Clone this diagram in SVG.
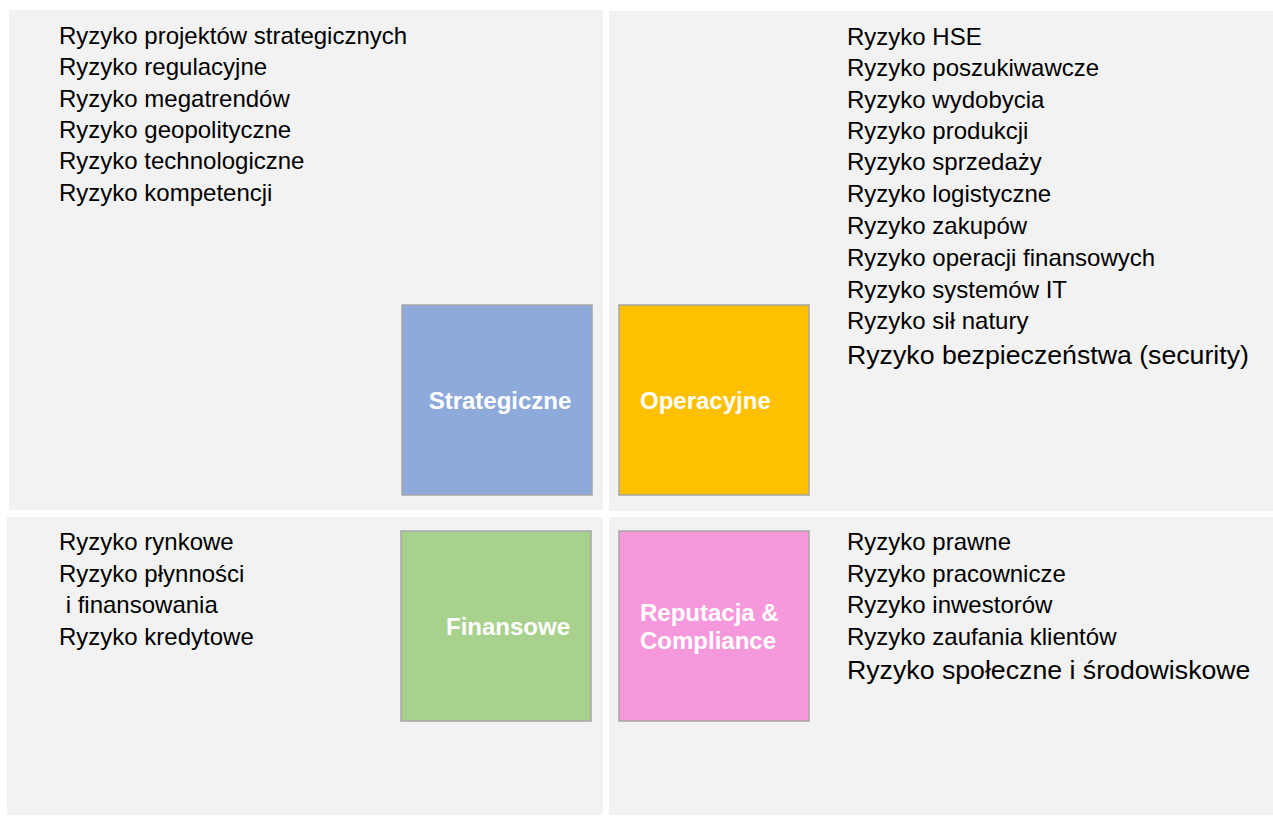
<svg xmlns="http://www.w3.org/2000/svg" width="1273" height="817" viewBox="0 0 1273 817">
<style>
.bg{fill:#f2f2f2}
.t{font-family:"Liberation Sans",Arial,sans-serif;font-size:24px;fill:#000}
.tb{font-family:"Liberation Sans",Arial,sans-serif;font-size:26.7px;fill:#000}
.box{stroke:#a6a6a6;stroke-width:1.5}
.lab{font-family:"Liberation Sans",Arial,sans-serif;font-size:24px;font-weight:bold;fill:#fff}
</style>
<rect width="1273" height="817" fill="#ffffff"/>
<g id="quadrants">
<rect class="bg" x="9" y="10" width="594" height="500"/>
<rect class="bg" x="609" y="11" width="664" height="500"/>
<rect class="bg" x="7" y="517" width="596" height="298"/>
<rect class="bg" x="609" y="517" width="664" height="298"/>
</g>
<g id="strategic-list">
<text class="t" x="59" y="44">Ryzyko projektów strategicznych</text>
<text class="t" x="59" y="75">Ryzyko regulacyjne</text>
<text class="t" x="59" y="107">Ryzyko megatrendów</text>
<text class="t" x="59" y="138">Ryzyko geopolityczne</text>
<text class="t" x="59" y="169">Ryzyko technologiczne</text>
<text class="t" x="59" y="201">Ryzyko kompetencji</text>
</g>
<g id="operational-list">
<text class="t" x="847" y="45">Ryzyko HSE</text>
<text class="t" x="847" y="76">Ryzyko poszukiwawcze</text>
<text class="t" x="847" y="108">Ryzyko wydobycia</text>
<text class="t" x="847" y="139">Ryzyko produkcji</text>
<text class="t" x="847" y="170">Ryzyko sprzedaży</text>
<text class="t" x="847" y="202">Ryzyko logistyczne</text>
<text class="t" x="847" y="234">Ryzyko zakupów</text>
<text class="t" x="847" y="266">Ryzyko operacji finansowych</text>
<text class="t" x="847" y="298">Ryzyko systemów IT</text>
<text class="t" x="847" y="329">Ryzyko sił natury</text>
<text class="tb" x="847" y="364">Ryzyko bezpieczeństwa (security)</text>
</g>
<g id="financial-list">
<text class="t" x="59" y="550">Ryzyko rynkowe</text>
<text class="t" x="59" y="582">Ryzyko płynności</text>
<text class="t" x="59" y="613" xml:space="preserve"> i finansowania</text>
<text class="t" x="59" y="645">Ryzyko kredytowe</text>
</g>
<g id="reputation-list">
<text class="t" x="847" y="550">Ryzyko prawne</text>
<text class="t" x="847" y="582">Ryzyko pracownicze</text>
<text class="t" x="847" y="613">Ryzyko inwestorów</text>
<text class="t" x="847" y="645">Ryzyko zaufania klientów</text>
<text class="tb" x="847" y="679">Ryzyko społeczne i środowiskowe</text>
</g>
<g id="node-strategiczne">
<rect class="box" x="402" y="305" width="190" height="190" fill="#8eaadb"/>
<text class="lab" x="500" y="409" text-anchor="middle">Strategiczne</text>
</g>
<g id="node-operacyjne">
<rect class="box" x="619" y="305" width="190" height="190" fill="#ffc000"/>
<text class="lab" x="640" y="409">Operacyjne</text>
</g>
<g id="node-finansowe">
<rect class="box" x="401" y="531" width="190" height="190" fill="#a9d18e"/>
<text class="lab" x="446" y="635">Finansowe</text>
</g>
<g id="node-reputacja">
<rect class="box" x="619" y="531" width="190" height="190" fill="#f698dc"/>
<text class="lab" x="640" y="621">Reputacja &amp;</text>
<text class="lab" x="640" y="649">Compliance</text>
</g>
<g id="connectors"/>
</svg>
